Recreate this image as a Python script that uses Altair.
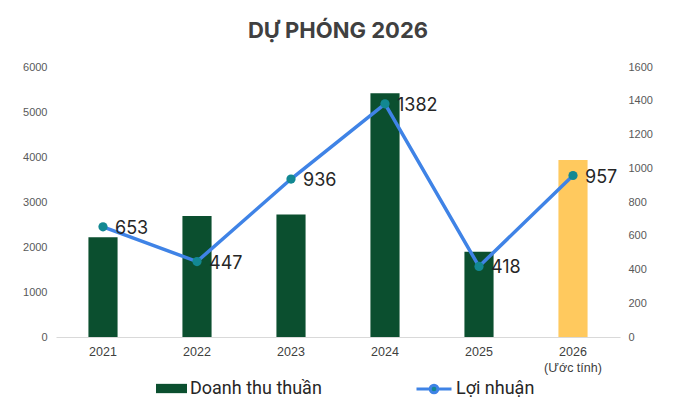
import altair as alt
import pandas as pd

years = ["2021", "2022", "2023", "2024", "2025", "2026"]
revenue = [2215, 2690, 2725, 5415, 1895, 3935]
profit = [653, 447, 936, 1382, 418, 957]
bar_series = ["Doanh thu thuần"] * 5 + ["Ước tính"]
line_name = "Lợi nhuận"

df = pd.DataFrame({
    "year": years,
    "revenue": revenue,
    "profit": profit,
    "bar_series": bar_series,
    "line_series": [line_name] * len(years),
})

GREEN = "#0b4f2f"
YELLOW = "#ffc95e"
BLUE = "#3f83e6"
TEAL = "#128892"

x = alt.X(
    "year:N",
    sort=years,
    title=None,
    scale=alt.Scale(paddingInner=0.69, paddingOuter=0.345),
    axis=alt.Axis(
        labelAngle=0,
        labelExpr="datum.value == '2026' ? ['2026', '(Ước tính)'] : datum.value",
        labelFont="Liberation Sans",
        labelFontSize=12.5,
        labelColor="#404040",
        labelPadding=8,
        labelLineHeight=16,
        ticks=False,
        domainColor="#d9d9d9",
        domainWidth=1,
        grid=False,
    ),
)

bar_legend = alt.Legend(
    title=None,
    orient="none",
    legendX=100,
    legendY=306,
    values=["Doanh thu thuần"],
    symbolType="M-1,-0.3L1,-0.3L1,0.3L-1,0.3Z",
    symbolSize=961,
    symbolStrokeWidth=0,
    labelFont="Roboto",
    labelFontSize=18,
    labelColor="#262626",
    labelOffset=3,
    padding=0,
)

bar_y = alt.Y(
    "revenue:Q",
    title=None,
    scale=alt.Scale(domain=[0, 6000], nice=False),
    axis=alt.Axis(
        values=[0, 1000, 2000, 3000, 4000, 5000, 6000],
        format="d",
        labelFont="Liberation Sans",
        labelFontSize=11,
        labelColor="#595959",
        labelPadding=9,
        ticks=False,
        domain=False,
        grid=False,
    ),
)

bars = alt.Chart(df).mark_bar().encode(
    x=x,
    y=bar_y,
    fill=alt.Fill(
        "bar_series:N",
        scale=alt.Scale(domain=["Doanh thu thuần", "Ước tính"], range=[GREEN, YELLOW]),
        legend=bar_legend,
    ),
)

line_legend = alt.Legend(
    title=None,
    orient="none",
    legendX=359,
    legendY=303,
    symbolType="M-1,0L-0.22,0M0.22,0L1,0M0.22,0A0.22,0.22 0 1,1 -0.22,0A0.22,0.22 0 1,1 0.22,0Z",
    symbolSize=1225,
    symbolStrokeWidth=3,
    symbolFillColor=TEAL,
    labelFont="Roboto",
    labelFontSize=18,
    labelColor="#262626",
    labelOffset=3,
    padding=0,
)

y2 = alt.Y(
    "profit:Q",
    title=None,
    scale=alt.Scale(domain=[0, 1600], nice=False),
    axis=alt.Axis(
        orient="right",
        values=[0, 200, 400, 600, 800, 1000, 1200, 1400, 1600],
        format="d",
        labelFont="Liberation Sans",
        labelFontSize=11,
        labelColor="#595959",
        labelPadding=8,
        ticks=False,
        domain=False,
        grid=False,
    ),
)

line = alt.Chart(df).mark_line(strokeWidth=3.5).encode(
    x=x,
    y=y2,
    stroke=alt.Stroke(
        "line_series:N",
        scale=alt.Scale(domain=[line_name], range=[BLUE]),
        legend=line_legend,
    ),
)

points = alt.Chart(df).mark_circle(size=85, opacity=1, color=TEAL).encode(
    x=x,
    y=y2,
)

labels = alt.Chart(df).mark_text(
    align="left", baseline="middle", dx=12, dy=2, font="Inter", fontSize=18, color="#262626"
).encode(
    x=x,
    y=y2,
    text=alt.Text("profit:Q"),
)

right_layer = alt.layer(line, points, labels)

chart = (
    alt.layer(bars, right_layer)
    .resolve_scale(y="independent")
    .properties(
        width=564,
        height=270,
        background="white",
        autosize=alt.AutoSizeParams(type="none"),
        padding={"left": 48, "top": 59, "right": 60, "bottom": 70},
        title=alt.Title(
            "DỰ PHÓNG 2026",
            font="Inter",
            fontSize=22,
            fontWeight=700,
            color="#404040",
            anchor="middle",
            offset=18,
        ),
    )
    .configure_view(stroke="transparent")
)

chart.save("out.html", embed_options={"renderer": "svg", "actions": False})
